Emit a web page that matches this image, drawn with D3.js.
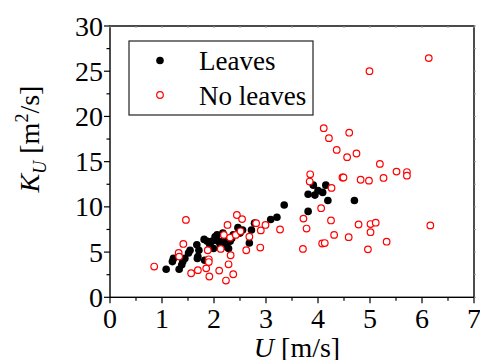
<!DOCTYPE html>
<html>
<head>
<meta charset="utf-8">
<script src="https://cdn.jsdelivr.net/npm/d3@7"></script>
<style>
  body { margin: 0; background: #fff; }
  svg { display: block; font-family: "Liberation Serif", "Times New Roman", serif; }
</style>
</head>
<body>
<svg id="chart" width="480" height="360"></svg>
<script>
// Leaves (filled black)
const leavesU = [1.08, 1.2, 1.22, 1.33, 1.38, 1.4, 1.44, 1.51, 1.54, 1.67, 1.68, 1.69, 1.71, 1.81, 1.82,
  1.87, 1.92, 1.96, 1.99, 2.02, 2.06, 2.08, 2.12, 2.17, 2.19, 2.24, 2.28, 2.31, 2.34, 2.37,
  2.46, 2.5, 2.55, 2.68, 2.72, 2.78, 3.09, 3.21, 3.35, 3.81, 3.81, 3.91, 3.94, 4.0, 4.09,
  4.15, 4.19, 4.7];
const leavesK = [3.1, 3.95, 4.3, 3.1, 3.6, 3.95, 4.3, 4.9, 5.2, 5.8, 4.3, 4.5, 5.2, 6.4, 4.1,
  6.2, 5.8, 6.2, 5.4, 6.7, 6.9, 6.2, 5.8, 7.1, 6.3, 5.6, 5.4, 6.2, 6.5, 6.9,
  7.7, 7.1, 7.45, 6.0, 7.45, 8.2, 8.6, 8.85, 10.2, 9.5, 11.4, 12.4, 11.3, 11.8, 11.6,
  12.4, 10.7, 10.7];

// No leaves (open red)
const noLeavesU = [0.85, 1.32, 1.33, 1.41, 1.46, 1.56, 1.69, 1.85, 1.88, 1.9, 1.9, 1.91, 2.1, 2.13,
  2.19, 2.23, 2.26, 2.28, 2.31, 2.32, 2.37, 2.42, 2.44, 2.51, 2.54, 2.62, 2.68, 2.81, 2.89,
  2.9, 2.99, 3.27, 3.71, 3.72, 3.78, 3.84, 3.85, 4.06, 4.08, 4.11, 4.13, 4.21, 4.26, 4.25,
  4.31, 4.36, 4.47, 4.49, 4.56, 4.59, 4.6, 4.74, 4.78, 4.82, 4.96, 4.98, 4.99, 5.01, 5.01,
  5.11, 5.19, 5.26, 5.32, 5.51, 5.71, 5.71, 6.13, 6.16];
const noLeavesK = [3.4, 4.9, 4.5, 5.9, 8.56, 2.66, 3.0, 3.2, 5.2, 4.2, 3.9, 2.3, 2.95, 5.35,
  6.9, 1.85, 8.0, 3.65, 6.6, 4.65, 2.55, 6.9, 9.1, 7.3, 8.65, 5.2, 6.7, 8.2, 5.5,
  7.4, 8.0, 7.5, 5.35, 8.7, 7.6, 12.8, 13.6, 9.85, 5.95, 18.7, 6.0, 17.6, 12.1, 8.5,
  6.9, 16.3, 13.25, 13.25, 15.5, 6.65, 18.2, 15.9, 8.05, 13.0, 5.3, 12.9, 25.0, 7.2, 8.1,
  8.25, 14.75, 13.2, 6.15, 13.9, 13.85, 13.45, 26.45, 7.95];

const xTicks = [0, 1, 2, 3, 4, 5, 6, 7];
const yTicks = [0, 5, 10, 15, 20, 25, 30];
const legendLabels = ["Leaves", "No leaves"];

const svg = d3.select("#chart");
const plotL = 110, plotR = 474, plotT = 26, plotB = 297.3;

const x = d3.scaleLinear().domain([0, 7]).range([plotL, plotR]);
const y = d3.scaleLinear().domain([0, 30]).range([plotB, plotT]);

const minorX = d3.range(0, 7.01, 0.5);
const minorY = d3.range(0, 30.01, 2.5);

// frame
svg.append("rect")
  .attr("x", plotL).attr("y", plotT)
  .attr("width", plotR - plotL).attr("height", plotB - plotT)
  .attr("fill", "none").attr("stroke", "#000").attr("stroke-width", 1.4);

// bottom axis
const xAxis = svg.append("g").attr("transform", `translate(0,${plotB})`);
xAxis.selectAll("line").data(minorX).join("line")
  .attr("x1", d => x(d)).attr("x2", d => x(d))
  .attr("y1", 0).attr("y2", d => d % 1 === 0 ? 6 : 3.5)
  .attr("stroke", "#000").attr("stroke-width", 1.2);
xAxis.selectAll("text").data(xTicks).join("text")
  .attr("x", d => x(d)).attr("y", 31)
  .attr("text-anchor", "middle")
  .attr("font-size", 28)
  .text(d => d);

// left axis
const yAxis = svg.append("g").attr("transform", `translate(${plotL},0)`);
yAxis.selectAll("line").data(minorY).join("line")
  .attr("y1", d => y(d)).attr("y2", d => y(d))
  .attr("x1", 0).attr("x2", d => d % 5 === 0 ? -6 : -3.5)
  .attr("stroke", "#000").attr("stroke-width", 1.2);
yAxis.selectAll("text").data(yTicks).join("text")
  .attr("x", -7).attr("y", d => y(d))
  .attr("dy", "0.34em")
  .attr("text-anchor", "end")
  .attr("font-size", 28)
  .text(d => d);

// tiny mirror ticks on top / right
svg.append("g").selectAll("line").data(minorX).join("line")
  .attr("x1", d => x(d)).attr("x2", d => x(d))
  .attr("y1", plotT).attr("y2", plotT + 2)
  .attr("stroke", "#999").attr("stroke-width", 1);
svg.append("g").selectAll("line").data(minorY).join("line")
  .attr("y1", d => y(d)).attr("y2", d => y(d))
  .attr("x1", plotR).attr("x2", plotR + 2)
  .attr("stroke", "#999").attr("stroke-width", 1);

// data
const leaves = leavesU.map((u, i) => ({ u: u, k: leavesK[i] }));
const noLeaves = noLeavesU.map((u, i) => ({ u: u, k: noLeavesK[i] }));

svg.append("g").selectAll("circle").data(leaves).join("circle")
  .attr("cx", d => x(d.u)).attr("cy", d => y(d.k))
  .attr("r", 3.8).attr("fill", "#000");

svg.append("g").selectAll("circle").data(noLeaves).join("circle")
  .attr("cx", d => x(d.u)).attr("cy", d => y(d.k))
  .attr("r", 3.3).attr("fill", "#fff")
  .attr("stroke", "#f00").attr("stroke-width", 1.2);

// legend
const lg = svg.append("g");
lg.append("rect")
  .attr("x", 129).attr("y", 41).attr("width", 184).attr("height", 74)
  .attr("fill", "#fff").attr("stroke", "#222").attr("stroke-width", 1.2);
lg.append("circle").attr("cx", 160).attr("cy", 60.5).attr("r", 3.8).attr("fill", "#000");
lg.append("circle").attr("cx", 160).attr("cy", 95).attr("r", 3.3)
  .attr("fill", "#fff").attr("stroke", "#f00").attr("stroke-width", 1.2);
lg.selectAll("text").data(legendLabels).join("text")
  .attr("x", 199).attr("y", (d, i) => i === 0 ? 70 : 104.5)
  .attr("font-size", 27)
  .text(d => d);

// axis titles
const xt = svg.append("text")
  .attr("x", 297).attr("y", 357)
  .attr("text-anchor", "middle")
  .attr("font-size", 28);
xt.append("tspan").attr("font-style", "italic").text("U");
xt.append("tspan").text(" [m/s]");

const yt = svg.append("text")
  .attr("transform", "translate(39,139) rotate(-90)")
  .attr("text-anchor", "middle")
  .attr("font-size", 28);
yt.append("tspan").attr("font-style", "italic").text("K");
yt.append("tspan").attr("font-style", "italic").attr("font-size", 18).attr("dy", 7).text("U");
yt.append("tspan").attr("dy", -7).text(" [m");
yt.append("tspan").attr("font-size", 18).attr("dy", -11).text("2");
yt.append("tspan").attr("dy", 11).text("/s]");
</script>
</body>
</html>
